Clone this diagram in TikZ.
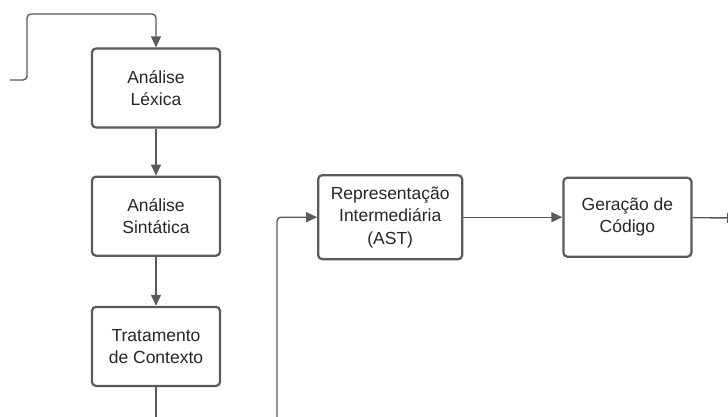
\documentclass[tikz,border=0pt]{standalone}
\usepackage{fontspec}
\setmainfont{Liberation Sans}
\usepackage{xcolor}
\usetikzlibrary{arrows.meta,positioning}
\definecolor{linegray}{HTML}{5A5A5A}
\begin{document}
\begin{tikzpicture}[
  x=1pt, y=-1pt,
  font=\fontsize{17.5pt}{22.5pt}\selectfont, text=black!85,
  phase/.style={draw=linegray,line width=2.2pt,rounded corners=4pt,minimum width=128pt,minimum height=79pt,align=center,inner sep=1pt},
  flow/.style={draw=linegray,line width=1.4pt,rounded corners=4pt},
  >={Triangle[length=11pt,width=10pt]}, node distance=47pt and 96pt]
\useasboundingbox (0,0) rectangle (728,417);
\clip (0,0) rectangle (728,417);
\node[phase] (lex) at (156,88) {Análise\\Léxica};
\node[phase,below=of lex] (sin) {Análise\\Sintática};
\node[phase,below=49pt of sin] (ctx) {Tratamento\\de Contexto};
\node[phase,right=of sin,minimum width=144pt,minimum height=84pt,yshift=-1pt] (rep) {Representação\\Intermediária\\(AST)};
\node[phase,right=99pt of rep,minimum width=128pt] (gen) {Geração de\\Código};
\coordinate (src) at (10,80);
\coordinate (ctxout) at (ctx.south |- 0,425);
\coordinate (repin) at (277,425);
\coordinate (out) at (738,218);
\draw[flow,->] (src) -- (27,80) -- (27,14) -| (lex.north);
\draw[flow,->] (lex) -- (sin);
\draw[flow,->] (sin) -- (ctx);
\draw[flow] (ctx.south) -- (ctxout);
\draw[flow,->] (repin) |- (rep.west);
\draw[flow,->] (rep) -- (gen);
\draw[flow,->] (gen) -- (out);
\end{tikzpicture}
\end{document}
